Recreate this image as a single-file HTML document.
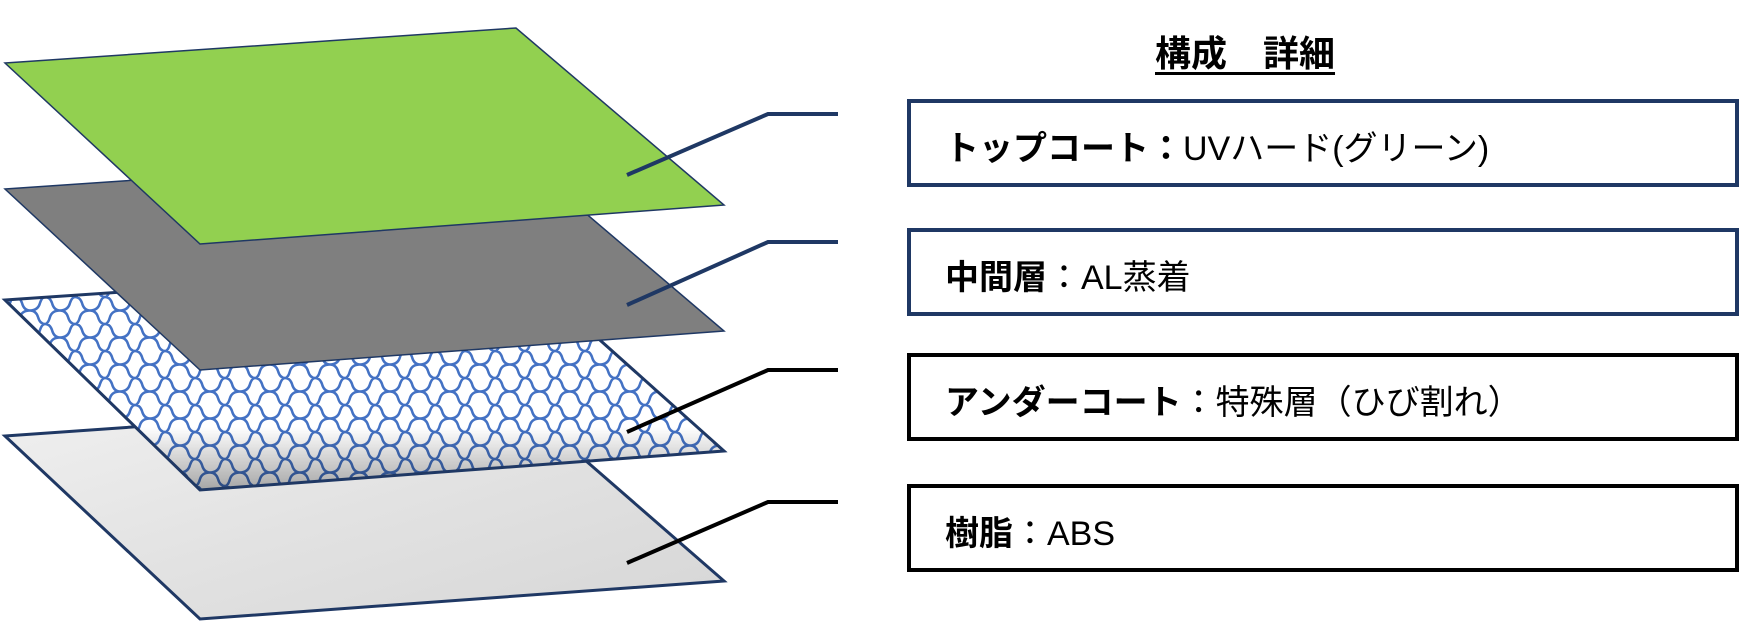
<!DOCTYPE html>
<html><head><meta charset="utf-8"><style>
html,body{margin:0;padding:0;background:#fff;}
body{width:1740px;height:623px;position:relative;overflow:hidden;font-family:"Liberation Sans","Noto Sans CJK JP",sans-serif;}
.t{position:absolute;left:1155px;top:25px;font-size:36px;font-weight:bold;text-decoration:underline;text-underline-offset:6px;white-space:pre;}
.box{position:absolute;left:907px;width:824px;height:80px;border:4px solid #1f3864;background:#fff;}
.box.k{border-color:#000;}
.box span{position:absolute;left:34px;top:18px;font-size:34px;white-space:nowrap;color:#000;}
b{font-weight:bold;}
</style></head><body>
<svg width="1740" height="623" style="position:absolute;left:0;top:0">
<defs>
<pattern id="p" width="30" height="27" patternUnits="userSpaceOnUse">
<rect width="30" height="27" fill="#fff"/>
<path d="M0 13.5 Q8 13.5 10 6 Q12 0 15 0 M15 27 Q18 27 20 20 Q22 13.5 30 13.5 M15 0 Q20 0 22 6 Q24 13.5 30 13.5 M0 13.5 Q6 13.5 8 20 Q10 27 15 27" stroke="#4472c4" stroke-width="2.5" fill="none"/>
</pattern>
<linearGradient id="sh" x1="0" y1="0" x2="0" y2="1">
<stop offset="0.72" stop-color="#000" stop-opacity="0"/>
<stop offset="1" stop-color="#000" stop-opacity="0.35"/>
</linearGradient>
<linearGradient id="gr" x1="0" y1="0" x2="1" y2="1">
<stop offset="0" stop-color="#f0f0f0"/><stop offset="0.5" stop-color="#e2e2e2"/><stop offset="1" stop-color="#d6d6d6"/>
</linearGradient>
</defs>
<polygon points="5,436 516,400 724,581 200,619" fill="url(#gr)" stroke="#1f3864" stroke-width="3"/>
<polygon points="5,300 516,265 724,451 200,490" fill="url(#p)"/>
<polygon points="5,300 516,265 724,451 200,490" fill="url(#sh)" stroke="#1f3864" stroke-width="3"/>
<polygon points="5,189 516,154 724,331 200,370" fill="#7f7f7f" stroke="#1f3864" stroke-width="1.5"/>
<polygon points="5,63 516,28 724,205 200,244" fill="#92d050" stroke="#1f3864" stroke-width="1.5"/>
<polyline points="627,175 768,114 838,114" fill="none" stroke="#1f3864" stroke-width="4"/>
<polyline points="627,305 768,242 838,242" fill="none" stroke="#1f3864" stroke-width="4"/>
<polyline points="627,432 768,370 838,370" fill="none" stroke="#000" stroke-width="4"/>
<polyline points="627,563 768,502 838,502" fill="none" stroke="#000" stroke-width="4"/>
</svg>
<div class="t">構成　詳細</div>
<div class="box" style="top:99px"><span><b>トップコート：</b>UVハード(グリーン)</span></div>
<div class="box" style="top:228px"><span><b>中間層</b>：AL蒸着</span></div>
<div class="box k" style="top:353px"><span><b>アンダーコート</b>：特殊層（ひび割れ）</span></div>
<div class="box k" style="top:484px"><span><b>樹脂</b>：ABS</span></div>
</body></html>
